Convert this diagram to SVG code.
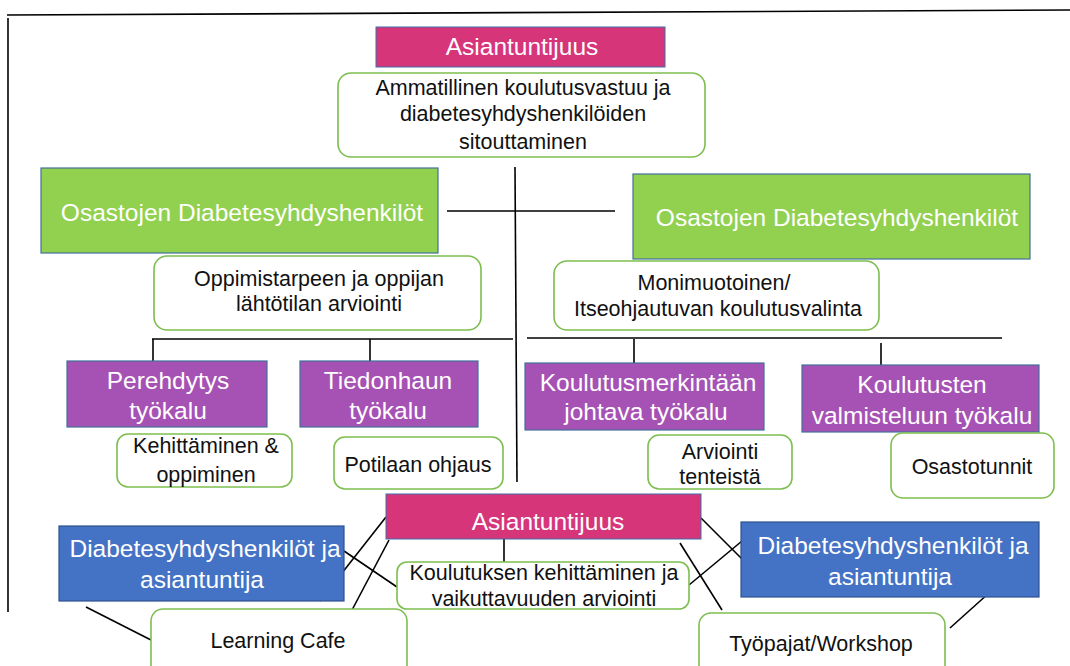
<svg xmlns="http://www.w3.org/2000/svg" width="1070" height="666" viewBox="0 0 1070 666">
  <style>
    .t { font-family: "Liberation Sans", Arial, sans-serif; text-anchor: middle; }
    .dark { fill: #111; font-size: 21.5px; }
    .light { fill: #fff; font-size: 24.5px; }
    .note { fill: #fff; stroke: #7DBE4F; stroke-width: 1.6; }
    .pink { fill: #D6357A; stroke: #3F6FA8; stroke-width: 1; }
    .green { fill: #92D050; stroke: #41719C; stroke-width: 1.2; }
    .purple { fill: #A652B4; stroke: #41719C; stroke-width: 1.2; }
    .blue { fill: #4472C4; stroke: #2F528F; stroke-width: 1.2; }
    .ln { stroke: #000; stroke-width: 1.6; fill: none; }
  </style>

  <!-- frame lines -->
  <g id="frame">
    <line class="ln" x1="7" y1="15" x2="1070" y2="10" stroke-width="2.4"/>
    <line class="ln" x1="8" y1="18" x2="8" y2="612"/>
  </g>

  <!-- connectors -->
  <g id="connectors">
    <line class="ln" x1="515" y1="167" x2="517" y2="482"/>
    <line class="ln" x1="447" y1="211" x2="615" y2="211"/>
    <line class="ln" x1="152" y1="339" x2="513" y2="339"/>
    <line class="ln" x1="153" y1="339" x2="153" y2="370"/>
    <line class="ln" x1="370" y1="339" x2="370" y2="367"/>
    <line class="ln" x1="527" y1="338" x2="1002" y2="338"/>
    <line class="ln" x1="634" y1="339" x2="634" y2="363"/>
    <line class="ln" x1="881" y1="343" x2="881" y2="367"/>
    <line class="ln" x1="504" y1="539" x2="504" y2="562"/>
    <line class="ln" x1="386" y1="517" x2="320" y2="601"/>
    <line class="ln" x1="389" y1="540" x2="352" y2="610"/>
    <line class="ln" x1="344" y1="551" x2="397" y2="587"/>
    <line class="ln" x1="86" y1="607" x2="151" y2="640"/>
    <line class="ln" x1="701" y1="518" x2="743" y2="560"/>
    <line class="ln" x1="689" y1="585" x2="742" y2="541"/>
    <line class="ln" x1="680" y1="543" x2="722" y2="610"/>
    <line class="ln" x1="989" y1="593" x2="950" y2="628"/>
  </g>

  <g id="top-expertise">
    <rect class="pink" x="376" y="27" width="289" height="40"/>
    <text class="t light" x="522" y="55" font-size="23px">Asiantuntijuus</text>
  </g>

  <g id="top-responsibility">
    <rect class="note" x="338" y="73" width="367" height="84" rx="13"/>
    <text class="t dark" x="523" y="95">Ammatillinen koulutusvastuu ja</text>
    <text class="t dark" x="523" y="121">diabetesyhdyshenkilöiden</text>
    <text class="t dark" x="523" y="149">sitouttaminen</text>
  </g>

  <g id="dept-left">
    <rect class="green" x="41" y="168" width="397" height="85"/>
    <text class="t light" x="242" y="221" font-size="24px">Osastojen Diabetesyhdyshenkilöt</text>
  </g>

  <g id="dept-right">
    <rect class="green" x="633" y="174" width="397" height="85"/>
    <text class="t light" x="837" y="226" font-size="24px">Osastojen Diabetesyhdyshenkilöt</text>
  </g>

  <g id="needs-assessment">
    <rect class="note" x="154" y="256" width="327" height="74" rx="13"/>
    <text class="t dark" x="319" y="286">Oppimistarpeen ja oppijan</text>
    <text class="t dark" x="319" y="311">lähtötilan arviointi</text>
  </g>

  <g id="training-choice">
    <rect class="note" x="554" y="261" width="325" height="69" rx="13"/>
    <text class="t dark" x="714" y="290">Monimuotoinen/</text>
    <text class="t dark" x="718" y="316">Itseohjautuvan koulutusvalinta</text>
  </g>

  <g id="tool-orientation">
    <rect class="purple" x="67" y="361" width="200" height="66"/>
    <text class="t light" x="168" y="389">Perehdytys</text>
    <text class="t light" x="168" y="419">työkalu</text>
  </g>

  <g id="tool-search">
    <rect class="purple" x="300" y="361" width="178" height="66"/>
    <text class="t light" x="388" y="389">Tiedonhaun</text>
    <text class="t light" x="388" y="419">työkalu</text>
  </g>

  <g id="tool-records">
    <rect class="purple" x="525" y="363" width="239" height="67"/>
    <text class="t light" x="648" y="391">Koulutusmerkintään</text>
    <text class="t light" x="646" y="420">johtava työkalu</text>
  </g>

  <g id="tool-preparation">
    <rect class="purple" x="802" y="365" width="237" height="67"/>
    <text class="t light" x="922" y="393">Koulutusten</text>
    <text class="t light" x="922" y="424">valmisteluun työkalu</text>
  </g>

  <g id="development">
    <rect class="note" x="117" y="434" width="175" height="53" rx="11"/>
    <text class="t dark" x="206" y="453">Kehittäminen &amp;</text>
    <text class="t dark" x="206" y="482">oppiminen</text>
  </g>

  <g id="patient-guidance">
    <rect class="note" x="334" y="437" width="169" height="52" rx="11"/>
    <text class="t dark" x="418" y="472">Potilaan ohjaus</text>
  </g>

  <g id="exam-evaluation">
    <rect class="note" x="648" y="435" width="144" height="54" rx="11"/>
    <text class="t dark" x="720" y="459">Arviointi</text>
    <text class="t dark" x="720" y="484">tenteistä</text>
  </g>

  <g id="ward-hours">
    <rect class="note" x="891" y="433" width="163" height="65" rx="12"/>
    <text class="t dark" x="972" y="474">Osastotunnit</text>
  </g>

  <g id="bottom-expertise">
    <rect class="pink" x="386" y="494" width="315" height="45"/>
    <text class="t light" x="548" y="530">Asiantuntijuus</text>
  </g>

  <g id="impact-evaluation">
    <rect class="note" x="397" y="562" width="292" height="47" rx="10"/>
    <text class="t dark" x="544" y="580">Koulutuksen kehittäminen ja</text>
    <text class="t dark" x="544" y="606">vaikuttavuuden arviointi</text>
  </g>

  <g id="contacts-left">
    <rect class="blue" x="59" y="526" width="285" height="75"/>
    <text class="t light" x="205" y="557">Diabetesyhdyshenkilöt ja</text>
    <text class="t light" x="202" y="588">asiantuntija</text>
  </g>

  <g id="contacts-right">
    <rect class="blue" x="741" y="522" width="298" height="75"/>
    <text class="t light" x="893" y="554">Diabetesyhdyshenkilöt ja</text>
    <text class="t light" x="890" y="585">asiantuntija</text>
  </g>

  <g id="learning-cafe">
    <rect class="note" x="151" y="609" width="256" height="70" rx="12"/>
    <text class="t dark" x="278" y="648">Learning Cafe</text>
  </g>

  <g id="workshop">
    <rect class="note" x="699" y="613" width="246" height="66" rx="12"/>
    <text class="t dark" x="821" y="651">Työpajat/Workshop</text>
  </g>
</svg>
